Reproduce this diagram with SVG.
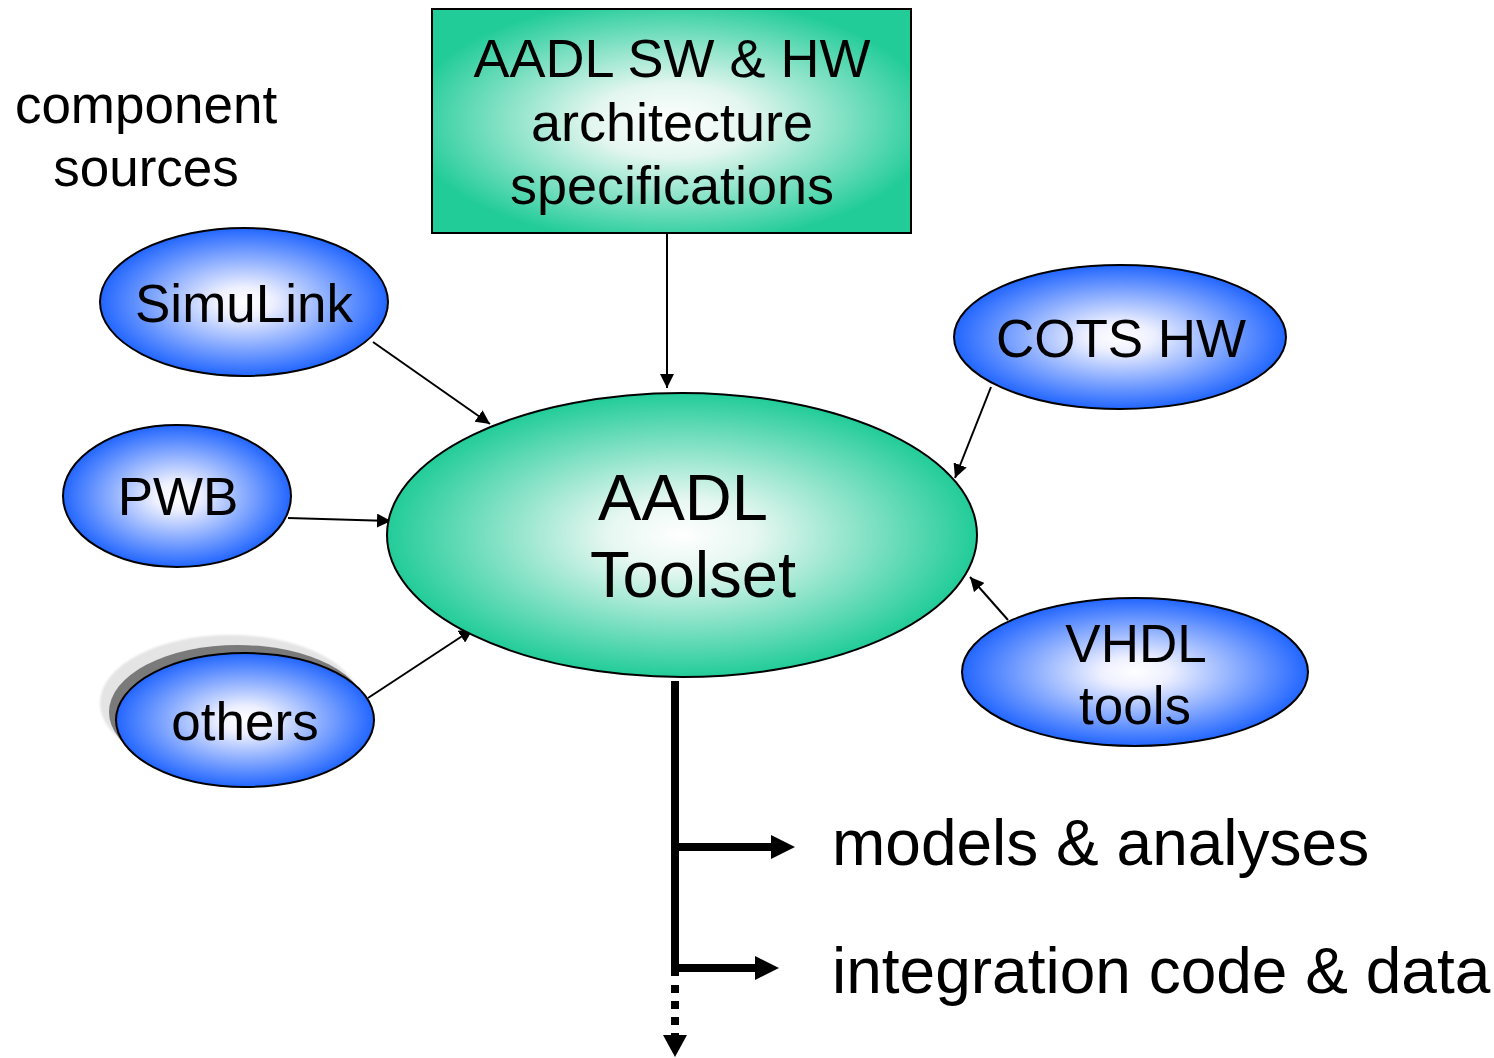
<svg xmlns="http://www.w3.org/2000/svg" width="1494" height="1058" viewBox="0 0 1494 1058">
  <style>
    text { font-family: "Liberation Sans", Arial, sans-serif; fill: #000; text-anchor: middle; }
    .node { stroke: #000; stroke-width: 2; }
    .thin { stroke: #000; stroke-width: 2; fill: none; }
    .thick { stroke: #000; stroke-width: 8; fill: none; }
  </style>
  <defs>
    <radialGradient id="teal" cx="50%" cy="50%" r="50%">
      <stop offset="0" stop-color="#ffffff"/>
      <stop offset="0.25" stop-color="#e6f7f1"/>
      <stop offset="1" stop-color="#22cc99"/>
    </radialGradient>
    <radialGradient id="tealBox" cx="50%" cy="50%" r="55%">
      <stop offset="0" stop-color="#ffffff"/>
      <stop offset="0.3" stop-color="#e3f6ef"/>
      <stop offset="1" stop-color="#22cc99"/>
    </radialGradient>
    <radialGradient id="blue" cx="50%" cy="50%" r="50%">
      <stop offset="0" stop-color="#ffffff"/>
      <stop offset="0.2" stop-color="#eef0ff"/>
      <stop offset="1" stop-color="#2266ff"/>
    </radialGradient>
    <filter id="soft" x="-20%" y="-20%" width="140%" height="140%">
      <feGaussianBlur stdDeviation="1"/>
    </filter>
    <marker id="ahSmall" viewBox="0 0 10 10" refX="10" refY="5" markerWidth="14" markerHeight="14" markerUnits="userSpaceOnUse" orient="auto">
      <path d="M0,0 L10,5 L0,10 z" fill="#000"/>
    </marker>
  </defs>

  <!-- heading -->
  <g id="label-sources">
    <text x="146" y="123" font-size="53">component</text>
    <text x="146" y="186" font-size="53">sources</text>
  </g>

  <!-- connectors -->
  <g id="connectors">
    <line class="thin" x1="667" y1="234" x2="667" y2="388" marker-end="url(#ahSmall)"/>
    <line class="thin" x1="373" y1="342" x2="490" y2="424" marker-end="url(#ahSmall)"/>
    <line class="thin" x1="288" y1="518" x2="391" y2="521" marker-end="url(#ahSmall)"/>
    <line class="thin" x1="368" y1="698" x2="473" y2="629" marker-end="url(#ahSmall)"/>
    <line class="thin" x1="991" y1="387" x2="955" y2="478" marker-end="url(#ahSmall)"/>
    <line class="thin" x1="1008" y1="620" x2="970" y2="577" marker-end="url(#ahSmall)"/>

    <!-- output trunk and branches -->
    <line class="thick" x1="675" y1="681" x2="675" y2="976"/>
    <line class="thick" x1="675" y1="847" x2="772" y2="847"/>
    <path d="M771,835 L795,847 L771,859 z" fill="#000"/>
    <line class="thick" x1="675" y1="968" x2="756" y2="968"/>
    <path d="M755,956 L779,968 L755,980 z" fill="#000"/>
    <line x1="675" y1="985" x2="675" y2="1035" stroke="#000" stroke-width="8" stroke-dasharray="8,8"/>
    <path d="M663,1035 L687,1035 L675,1057 z" fill="#000"/>
  </g>

  <g id="node-spec">
    <rect class="node" x="432" y="9" width="479" height="224" fill="url(#tealBox)"/>
    <text x="672" y="77" font-size="54">AADL SW &amp; HW</text>
    <text x="672" y="141" font-size="54">architecture</text>
    <text x="672" y="204" font-size="54">specifications</text>
  </g>

  <g id="node-toolset">
    <ellipse class="node" cx="682" cy="535" rx="295" ry="142" fill="url(#teal)"/>
    <text x="683" y="520" font-size="65">AADL</text>
    <text x="693" y="597" font-size="65">Toolset</text>
  </g>

  <g id="node-simulink">
    <ellipse class="node" cx="244" cy="302" rx="144" ry="74" fill="url(#blue)"/>
    <text x="244" y="322" font-size="53">SimuLink</text>
  </g>

  <g id="node-pwb">
    <ellipse class="node" cx="177" cy="496" rx="114" ry="71" fill="url(#blue)"/>
    <text x="178" y="515" font-size="53">PWB</text>
  </g>

  <g id="node-others">
    <ellipse cx="230" cy="703" rx="130" ry="68" fill="#e4e4e4" filter="url(#soft)"/>
    <ellipse cx="238" cy="712" rx="129" ry="67" fill="#7a7a7a"/>
    <ellipse class="node" cx="245" cy="720" rx="129" ry="67" fill="url(#blue)"/>
    <text x="245" y="740" font-size="53">others</text>
  </g>

  <g id="node-cots">
    <ellipse class="node" cx="1120" cy="337" rx="166" ry="72" fill="url(#blue)"/>
    <text x="1121" y="357" font-size="53">COTS HW</text>
  </g>

  <g id="node-vhdl">
    <ellipse class="node" cx="1135" cy="672" rx="173" ry="74" fill="url(#blue)"/>
    <text x="1136" y="662" font-size="53">VHDL</text>
    <text x="1135" y="724" font-size="53">tools</text>
  </g>

  <g id="label-outputs">
    <text x="832" y="865" font-size="64" style="text-anchor:start">models &amp; analyses</text>
    <text x="832" y="993" font-size="64" style="text-anchor:start">integration code &amp; data</text>
  </g>
</svg>
